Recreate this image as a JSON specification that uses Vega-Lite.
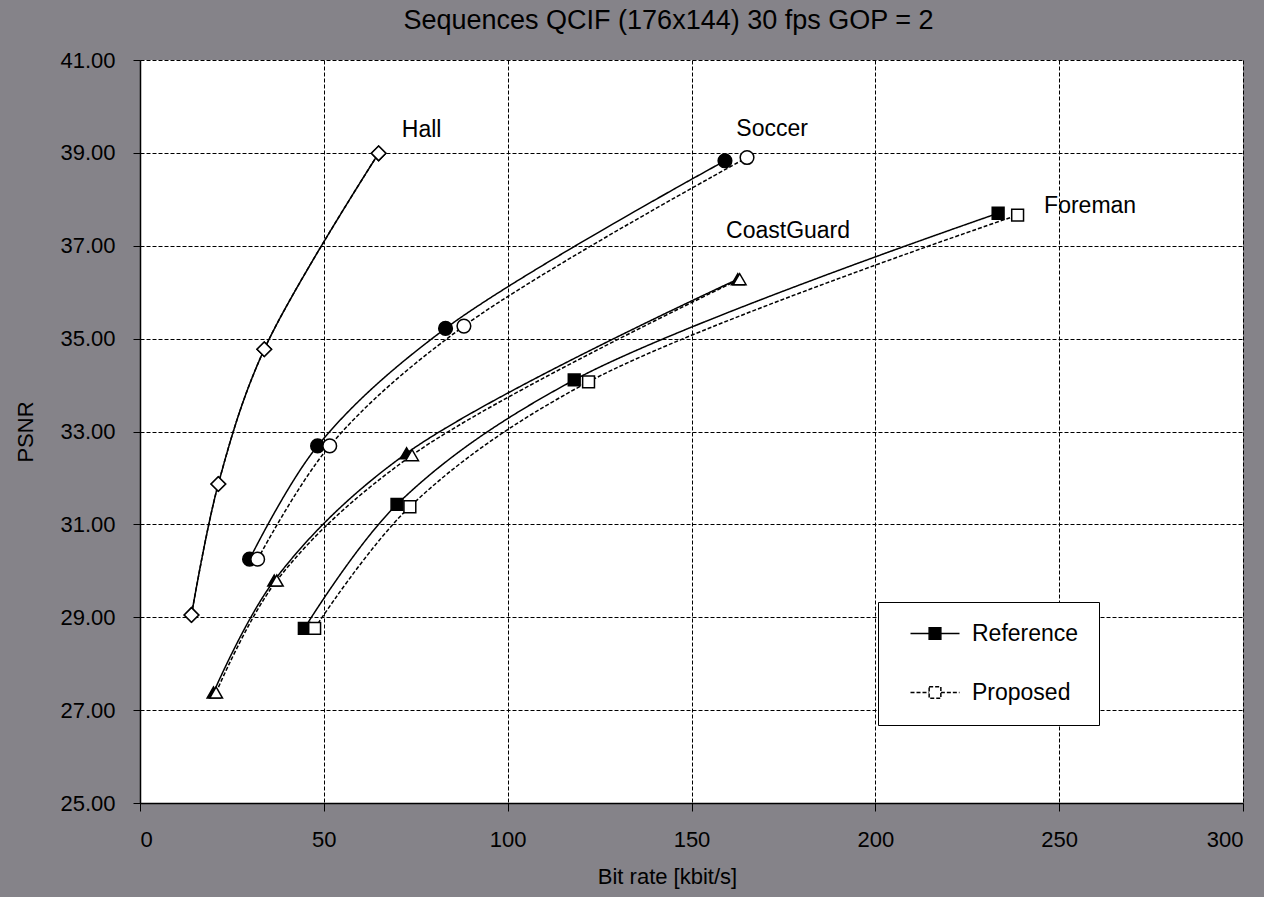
{
  "$schema": "https://vega.github.io/schema/vega-lite/v6.json",
  "width": 1103,
  "height": 743,
  "autosize": {"type": "none"},
  "padding": {"left": 140, "top": 60, "right": 21, "bottom": 94},
  "background": "#858389",
  "title": {"text": "Sequences QCIF (176x144) 30 fps GOP = 2", "fontSize": 27, "fontWeight": "normal", "font": "Liberation Sans", "color": "black", "dx": -23, "offset": 14},
  "config": {
    "font": "Liberation Sans",
    "view": {"fill": "white", "stroke": null},
    "axis": {"labelColor": "black", "labelFontSize": 22, "titleColor": "black", "titleFontSize": 22, "titleFontWeight": "normal", "domainColor": "black", "domainWidth": 1.5, "tickColor": "black", "tickWidth": 1, "gridColor": "black", "gridDash": [4, 2], "gridWidth": 1, "gridOpacity": 1}
  },
  "datasets": {
    "pts": [
      {"seq": "Hall", "method": "Reference", "x": 14.0, "y": 29.05},
      {"seq": "Hall", "method": "Reference", "x": 21.3, "y": 31.87},
      {"seq": "Hall", "method": "Reference", "x": 33.8, "y": 34.77},
      {"seq": "Hall", "method": "Reference", "x": 64.9, "y": 38.99},
      {"seq": "Soccer", "method": "Reference", "x": 29.8, "y": 30.25},
      {"seq": "Soccer", "method": "Reference", "x": 48.3, "y": 32.69},
      {"seq": "Soccer", "method": "Reference", "x": 83.1, "y": 35.22},
      {"seq": "Soccer", "method": "Reference", "x": 159.1, "y": 38.83},
      {"seq": "CoastGuard", "method": "Reference", "x": 20.0, "y": 27.38},
      {"seq": "CoastGuard", "method": "Reference", "x": 36.5, "y": 29.79},
      {"seq": "CoastGuard", "method": "Reference", "x": 72.5, "y": 32.53},
      {"seq": "CoastGuard", "method": "Reference", "x": 162.6, "y": 36.28},
      {"seq": "Foreman", "method": "Reference", "x": 44.7, "y": 28.76},
      {"seq": "Foreman", "method": "Reference", "x": 69.9, "y": 31.43},
      {"seq": "Foreman", "method": "Reference", "x": 118.1, "y": 34.11},
      {"seq": "Foreman", "method": "Reference", "x": 233.4, "y": 37.70},
      {"seq": "Hall", "method": "Proposed", "x": 14.0, "y": 29.05},
      {"seq": "Hall", "method": "Proposed", "x": 21.3, "y": 31.87},
      {"seq": "Hall", "method": "Proposed", "x": 33.8, "y": 34.77},
      {"seq": "Hall", "method": "Proposed", "x": 64.9, "y": 38.99},
      {"seq": "Soccer", "method": "Proposed", "x": 32.0, "y": 30.25},
      {"seq": "Soccer", "method": "Proposed", "x": 51.6, "y": 32.69},
      {"seq": "Soccer", "method": "Proposed", "x": 88.1, "y": 35.27},
      {"seq": "Soccer", "method": "Proposed", "x": 165.1, "y": 38.90},
      {"seq": "CoastGuard", "method": "Proposed", "x": 20.7, "y": 27.38},
      {"seq": "CoastGuard", "method": "Proposed", "x": 37.2, "y": 29.79},
      {"seq": "CoastGuard", "method": "Proposed", "x": 74.0, "y": 32.49},
      {"seq": "CoastGuard", "method": "Proposed", "x": 163.1, "y": 36.28},
      {"seq": "Foreman", "method": "Proposed", "x": 47.5, "y": 28.76},
      {"seq": "Foreman", "method": "Proposed", "x": 73.4, "y": 31.38},
      {"seq": "Foreman", "method": "Proposed", "x": 122.0, "y": 34.07},
      {"seq": "Foreman", "method": "Proposed", "x": 238.7, "y": 37.66}
    ],
    "labels": [
      {"name": "Hall", "x": 71.2, "y": 39.35},
      {"name": "Soccer", "x": 162.2, "y": 39.36},
      {"name": "CoastGuard", "x": 159.4, "y": 37.16},
      {"name": "Foreman", "x": 245.9, "y": 37.70}
    ]
  },
  "layer": [
    {
      "data": {"name": "pts"},
      "mark": {"type": "line", "color": "black", "interpolate": "catmull-rom", "strokeWidth": 1.5},
      "encoding": {
        "x": {"field": "x", "type": "quantitative", "scale": {"domain": [0, 300], "nice": false}, "axis": {"values": [0, 50, 100, 150, 200, 250, 300], "format": "d", "title": "Bit rate [kbit/s]", "tickSize": 8, "labelPadding": 18, "titlePadding": 16, "titleX": 527}},
        "y": {"field": "y", "type": "quantitative", "scale": {"domain": [25, 41], "nice": false, "zero": false}, "axis": {"values": [25, 27, 29, 31, 33, 35, 37, 39, 41], "format": ".2f", "title": "PSNR", "tickSize": 7, "labelPadding": 18, "titlePadding": 22}},
        "detail": {"field": "seq"},
        "strokeDash": {"field": "method", "type": "nominal", "scale": {"domain": ["Reference", "Proposed"], "range": [[1, 0], [4, 2]]},
          "legend": {"title": null, "orient": "none", "legendX": 738, "legendY": 542, "padding": 20, "strokeColor": "black", "fillColor": "white", "symbolType": "M0.2,0H3.93M6.27,0H10M3.93,-1.17H6.27V1.17H3.93Z", "symbolSize": 100, "symbolStrokeColor": "black", "symbolStrokeWidth": 1.5, "labelFontSize": 23, "labelColor": "black", "labelOffset": 51, "rowPadding": 35}}
      }
    },
    {
      "data": {"name": "pts"},
      "mark": {"type": "point", "filled": true, "stroke": "black", "strokeWidth": 1.5, "opacity": 1},
      "encoding": {
        "x": {"field": "x", "type": "quantitative"},
        "y": {"field": "y", "type": "quantitative"},
        "shape": {"field": "seq", "type": "nominal", "scale": {"domain": ["Hall", "Soccer", "CoastGuard", "Foreman"], "range": ["diamond", "circle", "triangle-up", "square"]}, "legend": null},
        "size": {"field": "seq", "type": "ordinal", "scale": {"domain": ["Hall", "Soccer", "CoastGuard", "Foreman"], "range": [210, 140, 190, 140]}, "legend": null},
        "fill": {"field": "method", "type": "nominal", "scale": {"domain": ["Reference", "Proposed"], "range": ["black", "white"]},
          "legend": {"title": null, "orient": "none", "legendX": 738, "legendY": 542, "padding": 20, "strokeColor": "black", "fillColor": "white", "symbolType": "M0.2,0H3.93M6.27,0H10M3.93,-1.17H6.27V1.17H3.93Z", "symbolSize": 100, "symbolStrokeColor": "black", "symbolStrokeWidth": 1.5, "labelFontSize": 23, "labelColor": "black", "labelOffset": 51, "rowPadding": 35}}
      }
    },
    {
      "data": {"name": "labels"},
      "mark": {"type": "text", "align": "left", "baseline": "alphabetic", "fontSize": 23, "color": "black"},
      "encoding": {
        "x": {"field": "x", "type": "quantitative"},
        "y": {"field": "y", "type": "quantitative"},
        "text": {"field": "name"}
      }
    }
  ]
}
